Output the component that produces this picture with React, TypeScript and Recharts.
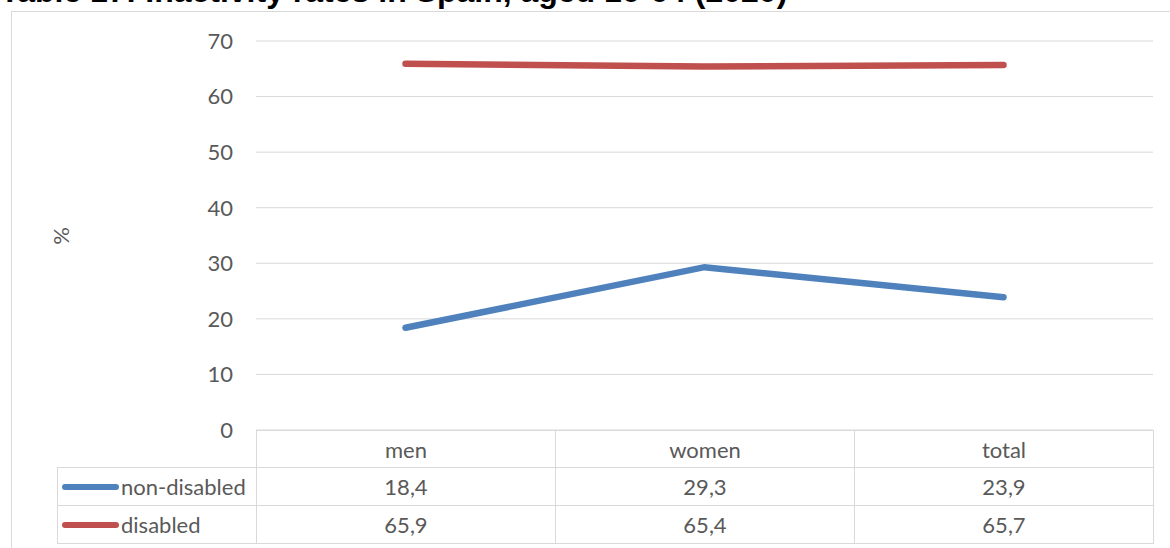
import { LineChart, Line, XAxis, YAxis, CartesianGrid } from 'recharts';

const categories = ['men', 'women', 'total'];
const nonDisabled = [18.4, 29.3, 23.9];
const disabled = [65.9, 65.4, 65.7];
const yTicks = [0, 10, 20, 30, 40, 50, 60, 70];
const title = 'Table 17: Inactivity rates in Spain, aged 16-64 (2020)';

const series = [
  { key: 'nonDisabled', name: 'non-disabled', values: nonDisabled, color: '#4F81BD' },
  { key: 'disabled', name: 'disabled', values: disabled, color: '#C0504D' }
];

const chartData = categories.map((cat, i) => ({
  cat,
  nonDisabled: nonDisabled[i],
  disabled: disabled[i]
}));

const W = 1170;
const H = 548;
const PLOT_LEFT = 256;
const PLOT_RIGHT = 1153;
const PLOT_TOP = 41;
const PLOT_BOTTOM = 430;
const COL_W = (PLOT_RIGHT - PLOT_LEFT) / categories.length;
const HEAD_H = 37;
const ROW_H = 38;
const KEY_LEFT = 57;
const GRID = '#d9d9d9';
const TEXT = '#595959';
const FONT = 'Lato, "Open Sans", sans-serif';
const FS = 22;

const fmt = (v: number) => v.toFixed(1).replace('.', ',');

function Cell({ left, top, width, height, children, align = 'center' }: any) {
  return (
    <div
      style={{
        position: 'absolute',
        left,
        top,
        width: width + 1,
        height: height + 1,
        boxSizing: 'border-box',
        border: `1px solid ${GRID}`,
        display: 'flex',
        alignItems: 'center',
        justifyContent: align === 'left' ? 'flex-start' : 'center',
        fontFamily: FONT,
        fontSize: FS,
        color: TEXT
      }}
    >
      {children}
    </div>
  );
}

export default function App() {
  return (
    <div style={{ position: 'fixed', left: 0, top: 0, width: W, height: H, overflow: 'hidden', background: 'white' }}>
      <div
        style={{
          position: 'absolute',
          left: 11,
          top: 11,
          width: W,
          height: H,
          border: `1px solid ${GRID}`,
          boxSizing: 'border-box'
        }}
      />
      <div
        style={{
          position: 'absolute',
          left: 0,
          top: -27,
          lineHeight: '37px',
          fontFamily: '"Liberation Sans", Arial, sans-serif',
          fontWeight: 'bold',
          fontSize: 32,
          whiteSpace: 'nowrap',
          color: '#000'
        }}
      >
        {title}
      </div>

      <LineChart
        width={W}
        height={H}
        data={chartData}
        margin={{ top: PLOT_TOP, right: W - PLOT_RIGHT, bottom: H - PLOT_BOTTOM, left: PLOT_LEFT - 60 }}
        style={{ position: 'absolute', left: 0, top: 0 }}
      >
        <CartesianGrid vertical={false} stroke={GRID} strokeWidth={1} />
        <XAxis dataKey="cat" hide padding={{ left: COL_W / 2, right: COL_W / 2 }} />
        <YAxis
          width={60}
          domain={[0, 70]}
          ticks={yTicks}
          interval={0}
          axisLine={false}
          tickLine={false}
          tickMargin={17}
          tick={{ fill: TEXT, fontSize: FS, fontFamily: FONT }}
        />
        {series.map(s => (
          <Line
            key={s.key}
            dataKey={s.key}
            name={s.name}
            stroke={s.color}
            strokeWidth={6.5}
            strokeLinecap="round"
            dot={false}
            activeDot={false}
            type="linear"
            isAnimationActive={false}
          />
        ))}
      </LineChart>

      <div
        style={{
          position: 'absolute',
          left: 60,
          top: 236,
          transform: 'translate(-50%, -50%) rotate(-90deg)',
          fontFamily: FONT,
          fontSize: FS,
          color: TEXT
        }}
      >
        %
      </div>

      {categories.map((c, i) => (
        <Cell key={c} left={PLOT_LEFT + i * COL_W} top={PLOT_BOTTOM} width={COL_W} height={HEAD_H}>
          {c}
        </Cell>
      ))}
      {series.map((s, r) => {
        const top = PLOT_BOTTOM + HEAD_H + r * ROW_H;
        return (
          <div key={s.key}>
            <Cell left={KEY_LEFT} top={top} width={PLOT_LEFT - KEY_LEFT} height={ROW_H} align="left">
              <span
                style={{
                  display: 'inline-block',
                  width: 57,
                  height: 6,
                  borderRadius: 3,
                  background: s.color,
                  marginLeft: 4,
                  marginRight: 2
                }}
              />
              {s.name}
            </Cell>
            {s.values.map((v, i) => (
              <Cell key={i} left={PLOT_LEFT + i * COL_W} top={top} width={COL_W} height={ROW_H}>
                {fmt(v)}
              </Cell>
            ))}
          </div>
        );
      })}
    </div>
  );
}
